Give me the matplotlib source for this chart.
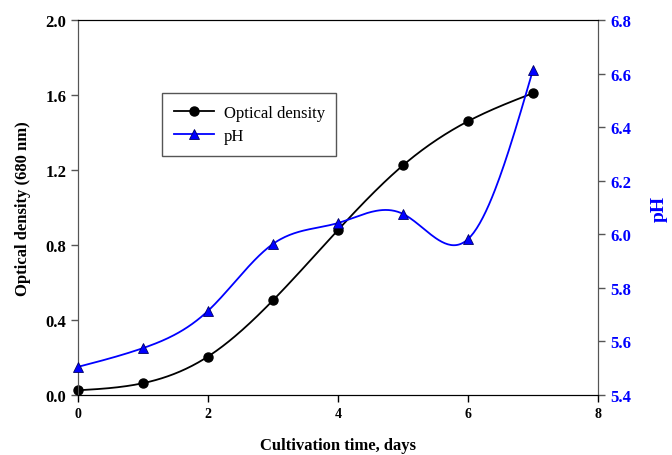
import numpy as np
import matplotlib
matplotlib.use('Agg')
from matplotlib import pyplot as plt
from matplotlib.lines import Line2D

# data
days = [0, 1, 2, 3, 4, 5, 6, 7]
optical_density = [0.025, 0.063, 0.205, 0.505, 0.88, 1.225, 1.46, 1.61]
ph = [5.505, 5.575, 5.714, 5.964, 6.042, 6.076, 5.982, 6.615]

# natural cubic spline for the smooth lines
def spline(x, y, n=300):
    x = np.asarray(x, float)
    y = np.asarray(y, float)
    k = len(x)
    h = np.diff(x)
    A = np.zeros((k, k))
    b = np.zeros(k)
    A[0, 0] = 1
    A[-1, -1] = 1
    for i in range(1, k - 1):
        A[i, i - 1] = h[i - 1]
        A[i, i] = 2 * (h[i - 1] + h[i])
        A[i, i + 1] = h[i]
        b[i] = 6 * ((y[i + 1] - y[i]) / h[i] - (y[i] - y[i - 1]) / h[i - 1])
    M = np.linalg.solve(A, b)
    xs = np.linspace(x[0], x[-1], n)
    idx = np.clip(np.searchsorted(x, xs) - 1, 0, k - 2)
    x0, x1 = x[idx], x[idx + 1]
    hh = x1 - x0
    ys = (M[idx] * (x1 - xs) ** 3 / (6 * hh) + M[idx + 1] * (xs - x0) ** 3 / (6 * hh)
          + (y[idx] / hh - M[idx] * hh / 6) * (x1 - xs)
          + (y[idx + 1] / hh - M[idx + 1] * hh / 6) * (xs - x0))
    return xs, ys

plt.rcParams['font.family'] = ['Liberation Serif', 'DejaVu Serif']

fig = plt.figure(figsize=(6.72, 4.56), dpi=100)
ax = fig.add_axes([0.116, 0.1316, 0.774, 0.8224])
ax2 = ax.twinx()

xs, ys = spline(days, optical_density)
ax.plot(xs, ys, color='black', lw=1.3)
ax.plot(days, optical_density, 'o', color='black', ms=6.5, clip_on=False, zorder=5)
xs, ys = spline(days, ph)
ax2.plot(xs, ys, color='#0000ff', lw=1.3)
ax2.plot(days, ph, '^', color='#0000ff', mec='#000066', mew=0.6, ms=6.5, clip_on=False, zorder=5)

ax.set_xlim(0, 8)
ax.set_ylim(0, 2.0)
ax2.set_ylim(5.4, 6.8)
ax.set_xticks([0, 2, 4, 6, 8])
ax.set_yticks(np.arange(0, 2.01, 0.4))
ax2.set_yticks(np.arange(5.4, 6.81, 0.2))
ax.set_yticklabels(['%.1f' % v for v in np.arange(0, 2.01, 0.4)], fontsize=12, fontweight='bold')
ax2.set_yticklabels(['%.1f' % v for v in np.arange(5.4, 6.81, 0.2)], fontsize=12, fontweight='bold', color='#0000ff')
ax.set_xticklabels(['0', '2', '4', '6', '8'], fontsize=10, fontweight='bold')

ax.tick_params(direction='out', length=5, width=1)
ax2.tick_params(direction='out', length=5, width=1)
ax.tick_params(axis='x', pad=4)
for s in ['left', 'right']:
    ax.spines[s].set_color('#555555')
    ax2.spines[s].set_color('#555555')
ax.tick_params(axis='y', colors='#555555', labelcolor='black')
ax2.tick_params(axis='y', colors='#555555', labelcolor='#0000ff')

ax.set_xlabel('Cultivation time, days', fontsize=12, fontweight='bold', labelpad=12)
ax.set_ylabel('Optical density (680 nm)', fontsize=12, fontweight='bold', labelpad=10)
ax2.set_ylabel('pH', fontsize=14, fontweight='bold', color='#0000ff', labelpad=14)

# legend handles with lines through the markers
h1 = Line2D([], [], color='black', marker='o', ms=6.5, lw=1.3)
h2 = Line2D([], [], color='#0000ff', marker='^', mec='#000066', mew=0.6, ms=6.5, lw=1.3)
leg = ax.legend([h1, h2], ['Optical density', 'pH'], loc='upper left',
                bbox_to_anchor=(0.1615, 0.805), borderaxespad=0, fontsize=12,
                fancybox=False, edgecolor='#555555', framealpha=1, borderpad=0.7,
                handlelength=2.4, handletextpad=0.6, labelspacing=0.45)
leg.get_frame().set_linewidth(1)

fig.savefig('out.png', dpi=100)
